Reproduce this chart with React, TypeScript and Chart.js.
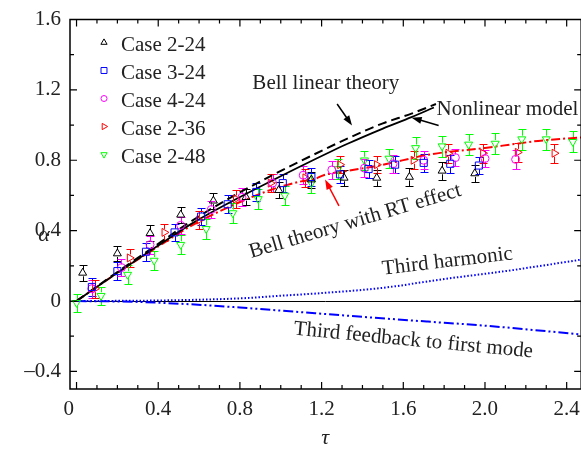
import React, { useEffect, useRef } from "react";
import { Chart, registerables } from "chart.js";

Chart.register(...registerables);

const SERIF = "'Liberation Serif', 'Times New Roman', Times, serif";
const TEXT = "#222";

// ---- axes ----
const xMin = -0.032;
const xMax = 2.471;
const yMin = -0.5;
const yMax = 1.6;
const xTickValues = [0, 0.4, 0.8, 1.2, 1.6, 2.0, 2.4];
const xTickLabels = ["0\u2002\u2005", "0.4", "0.8", "1.2", "1.6", "2.0", "2.4"];
const yTickValues = [-0.4, 0, 0.4, 0.8, 1.2, 1.6];
const yTickLabels = ["\u20130.4", "0", "0.4", "0.8", "1.2", "1.6"];

// ---- theory curves ----
const bellTau = [0, 0.2, 0.4, 0.55, 0.75, 0.95, 1.14, 1.33, 1.5, 1.64, 1.76];
const bellAlpha = [0, 0.165, 0.325, 0.445, 0.585, 0.71, 0.82, 0.925, 1.01, 1.065, 1.12];
const nonlinTau = [0, 0.2, 0.4, 0.55, 0.75, 0.95, 1.14, 1.33, 1.5, 1.64, 1.75];
const nonlinAlpha = [0, 0.16, 0.315, 0.43, 0.56, 0.68, 0.79, 0.895, 0.98, 1.045, 1.1];
const rtTau = [0, 0.2, 0.4, 0.55, 0.7, 0.9, 1.0, 1.1, 1.17, 1.21, 1.3, 1.48, 1.74, 2.0, 2.13, 2.26, 2.47];
const rtAlpha = [0, 0.16, 0.31, 0.42, 0.51, 0.61, 0.65, 0.68, 0.695, 0.715, 0.735, 0.77, 0.835, 0.87, 0.89, 0.91, 0.93];
const harmTau = [0, 0.4, 0.8, 1.0, 1.2, 1.5, 1.8, 2.1, 2.47];
const harmAlpha = [0, 0.003, 0.015, 0.03, 0.045, 0.075, 0.125, 0.17, 0.235];
const feedTau = [0, 0.3, 0.55, 0.8, 1.06, 1.4, 1.72, 2.0, 2.47];
const feedAlpha = [0, -0.005, -0.018, -0.037, -0.06, -0.09, -0.117, -0.14, -0.19];

// ---- experiments ----
const tau224 = [0.03, 0.2, 0.36, 0.51, 0.67, 0.83, 0.99, 1.15, 1.31, 1.47, 1.63, 1.79, 1.95];
const alpha224 = [0.16, 0.27, 0.385, 0.49, 0.57, 0.59, 0.63, 0.69, 0.7, 0.7, 0.705, 0.74, 0.725];
const err224 = [0.046, 0.045, 0.045, 0.045, 0.045, 0.045, 0.045, 0.045, 0.045, 0.045, 0.05, 0.05, 0.05];

const tau324 = [0.075, 0.2, 0.34, 0.48, 0.61, 0.74, 0.88, 1.01, 1.15, 1.29, 1.43, 1.56, 1.7, 1.83, 1.97];
const alpha324 = [0.08, 0.17, 0.28, 0.39, 0.48, 0.55, 0.62, 0.67, 0.705, 0.72, 0.75, 0.775, 0.785, 0.78, 0.77];
const err324 = [0.05, 0.05, 0.05, 0.05, 0.05, 0.05, 0.05, 0.05, 0.05, 0.05, 0.05, 0.05, 0.05, 0.05, 0.05];

const tau424 = [0.075, 0.22, 0.36, 0.51, 0.66, 0.81, 0.96, 1.11, 1.25, 1.41, 1.55, 1.7, 1.855, 2.0, 2.15];
const alpha424 = [0.07, 0.19, 0.32, 0.43, 0.52, 0.59, 0.67, 0.715, 0.745, 0.755, 0.78, 0.8, 0.815, 0.81, 0.805];
const err424 = [0.05, 0.05, 0.05, 0.05, 0.05, 0.05, 0.05, 0.05, 0.05, 0.05, 0.05, 0.05, 0.05, 0.05, 0.055];

const tau236 = [0.09, 0.26, 0.43, 0.6, 0.78, 0.95, 1.12, 1.29, 1.47, 1.65, 1.82, 1.99, 2.16, 2.34];
const alpha236 = [0.07, 0.245, 0.39, 0.46, 0.58, 0.67, 0.7, 0.775, 0.775, 0.8, 0.84, 0.84, 0.845, 0.84];
const err236 = [0.05, 0.05, 0.05, 0.05, 0.05, 0.05, 0.05, 0.05, 0.05, 0.05, 0.055, 0.055, 0.055, 0.055];

const tau248 = [0, 0.12, 0.25, 0.38, 0.51, 0.635, 0.765, 0.89, 1.02, 1.15, 1.28, 1.41, 1.53, 1.66, 1.79, 1.92, 2.05, 2.18, 2.3, 2.43];
const alpha248 = [-0.01, 0.03, 0.15, 0.23, 0.32, 0.41, 0.5, 0.58, 0.6, 0.67, 0.75, 0.8, 0.81, 0.87, 0.88, 0.89, 0.895, 0.92, 0.92, 0.905];
const err248 = [0.05, 0.05, 0.055, 0.055, 0.055, 0.055, 0.055, 0.055, 0.055, 0.055, 0.055, 0.055, 0.055, 0.06, 0.06, 0.06, 0.06, 0.06, 0.06, 0.06];

const seriesNames = ["Case 2-24", "Case 3-24", "Case 4-24", "Case 2-36", "Case 2-48"];

type Series = {
  label: string;
  tau: number[];
  alpha: number[];
  err: number[];
  color: string;
  style: string;
  rotation: number;
  radius: number;
};

const experiments: Series[] = [
  { label: seriesNames[0], tau: tau224, alpha: alpha224, err: err224, color: "#000000", style: "triangle", rotation: 0, radius: 4.6 },
  { label: seriesNames[1], tau: tau324, alpha: alpha324, err: err324, color: "#0000ff", style: "rect", rotation: 0, radius: 5 },
  { label: seriesNames[2], tau: tau424, alpha: alpha424, err: err424, color: "#ff00ff", style: "circle", rotation: 0, radius: 4 },
  { label: seriesNames[3], tau: tau236, alpha: alpha236, err: err236, color: "#ff0000", style: "triangle", rotation: 90, radius: 4.6 },
  { label: seriesNames[4], tau: tau248, alpha: alpha248, err: err248, color: "#00ff00", style: "triangle", rotation: 180, radius: 4.6 },
];

// ---- annotations (data coordinates) ----
const notes = [
  { text: "Bell linear theory", tau: 0.861, alpha: 1.204, angle: 0 },
  { text: "Nonlinear model", tau: 1.763, alpha: 1.059, angle: 0 },
  { text: "Bell theory with RT effect", tau: 0.856, alpha: 0.245, angle: -16.5 },
  { text: "Third harmonic", tau: 1.5, alpha: 0.15, angle: -6.7 },
  { text: "Third feedback to first mode", tau: 1.061, alpha: -0.19, angle: 5.5 },
];
const arrows = [
  { from: [1.276, 1.12], to: [1.349, 0.998], color: "#000" },
  { from: [1.773, 0.998], to: [1.641, 1.042], color: "#000" },
  { from: [1.285, 0.541], to: [1.217, 0.691], color: "#ff0000" },
];

const pts = (t: number[], a: number[]) => t.map((v, i) => ({ x: v, y: a[i] }));

function drawMarker(ctx: CanvasRenderingContext2D, style: string, rot: number, cx: number, cy: number, r: number, color: string) {
  ctx.strokeStyle = color;
  ctx.lineWidth = 1;
  ctx.beginPath();
  if (style === "circle") {
    ctx.arc(cx, cy, r, 0, Math.PI * 2);
  } else if (style === "rect") {
    const s = r * Math.SQRT1_2;
    ctx.rect(cx - s, cy - s, 2 * s, 2 * s);
  } else {
    let rad = (rot * Math.PI) / 180;
    ctx.moveTo(cx + Math.sin(rad) * r, cy - Math.cos(rad) * r);
    for (let k = 0; k < 2; k++) {
      rad += (2 * Math.PI) / 3;
      ctx.lineTo(cx + Math.sin(rad) * r, cy - Math.cos(rad) * r);
    }
    ctx.closePath();
  }
  ctx.stroke();
}

function drawArrow(ctx: CanvasRenderingContext2D, x1: number, y1: number, x2: number, y2: number, color: string) {
  ctx.strokeStyle = color;
  ctx.fillStyle = color;
  ctx.lineWidth = 1.5;
  const a = Math.atan2(y2 - y1, x2 - x1);
  const L = 10;
  const W = 3.5;
  ctx.beginPath();
  ctx.moveTo(x1, y1);
  ctx.lineTo(x2 - Math.cos(a) * L * 0.6, y2 - Math.sin(a) * L * 0.6);
  ctx.stroke();
  ctx.beginPath();
  ctx.moveTo(x2, y2);
  ctx.lineTo(x2 - L * Math.cos(a) + W * Math.sin(a), y2 - L * Math.sin(a) - W * Math.cos(a));
  ctx.lineTo(x2 - L * Math.cos(a) - W * Math.sin(a), y2 - L * Math.sin(a) + W * Math.cos(a));
  ctx.closePath();
  ctx.fill();
}

const overlayPlugin = {
  id: "overlay",
  beforeDatasetsDraw(chart: any) {
    const { ctx, chartArea: a, scales } = chart;
    const x = scales.x;
    const y = scales.y;
    ctx.save();
    // zero line
    ctx.strokeStyle = "#000";
    ctx.lineWidth = 1;
    const y0 = Math.round(y.getPixelForValue(0)) + 0.5;
    ctx.beginPath();
    ctx.moveTo(a.left, y0);
    ctx.lineTo(a.right, y0);
    ctx.stroke();
    // error bars
    experiments.forEach((s) => {
      ctx.strokeStyle = s.color;
      ctx.lineWidth = 1;
      s.tau.forEach((t, i) => {
        const px = Math.round(x.getPixelForValue(t)) + 0.5;
        const pc = y.getPixelForValue(s.alpha[i]);
        const top = Math.round(y.getPixelForValue(s.alpha[i] + s.err[i])) + 0.5;
        const bot = Math.round(y.getPixelForValue(s.alpha[i] - s.err[i])) + 0.5;
        const g = s.radius * 0.75;
        ctx.beginPath();
        ctx.moveTo(px, top);
        ctx.lineTo(px, Math.max(top, pc - g));
        ctx.moveTo(px, Math.min(bot, pc + g));
        ctx.lineTo(px, bot);
        ctx.moveTo(px - 4, top);
        ctx.lineTo(px + 4, top);
        ctx.moveTo(px - 4, bot);
        ctx.lineTo(px + 4, bot);
        ctx.stroke();
      });
    });
    ctx.restore();
  },
  afterDatasetsDraw(chart: any) {
    const { ctx, chartArea: a, scales } = chart;
    const x = scales.x;
    const y = scales.y;
    ctx.save();
    // frame
    ctx.strokeStyle = "#000";
    ctx.lineWidth = 1.5;
    ctx.strokeRect(a.left, a.top, a.right - a.left, a.bottom - a.top);
    // ticks
    ctx.lineWidth = 1.2;
    ctx.beginPath();
    for (let k = 0; k <= 24; k++) {
      const v = k / 10;
      const px = x.getPixelForValue(v);
      const len = k % 4 === 0 ? 7 : 4;
      ctx.moveTo(px, a.bottom);
      ctx.lineTo(px, a.bottom - len);
      ctx.moveTo(px, a.top);
      ctx.lineTo(px, a.top + len);
    }
    for (let k = -2; k <= 8; k++) {
      const v = k / 5;
      const py = y.getPixelForValue(v);
      const len = k % 2 === 0 ? 7 : 4;
      ctx.moveTo(a.left, py);
      ctx.lineTo(a.left + len, py);
      ctx.moveTo(a.right, py);
      ctx.lineTo(a.right - len, py);
    }
    ctx.stroke();

    // annotations
    ctx.fillStyle = TEXT;
    ctx.font = `21px ${SERIF}`;
    ctx.textAlign = "left";
    ctx.textBaseline = "alphabetic";
    notes.forEach((n) => {
      ctx.save();
      ctx.translate(x.getPixelForValue(n.tau), y.getPixelForValue(n.alpha));
      ctx.rotate((n.angle * Math.PI) / 180);
      ctx.fillText(n.text, 0, 0);
      ctx.restore();
    });
    arrows.forEach((ar) => {
      drawArrow(
        ctx,
        x.getPixelForValue(ar.from[0]),
        y.getPixelForValue(ar.from[1]),
        x.getPixelForValue(ar.to[0]),
        y.getPixelForValue(ar.to[1]),
        ar.color
      );
    });

    // legend
    experiments.forEach((s, i) => {
      const cy = a.top + 23 + i * 28;
      drawMarker(ctx, s.style, s.rotation, a.left + 34, cy, s.style === "circle" ? 3 : s.style === "rect" ? 4.2 : 3.6, s.color);
      ctx.fillStyle = TEXT;
      ctx.font = `21px ${SERIF}`;
      ctx.textAlign = "left";
      ctx.textBaseline = "alphabetic";
      ctx.fillText(s.label, a.left + 51, a.top + 31.5 + i * 28);
    });

    // axis titles
    ctx.font = `italic 22px ${SERIF}`;
    ctx.textAlign = "center";
    ctx.textBaseline = "middle";
    ctx.fillStyle = TEXT;
    ctx.fillText("\u03b1", a.left - 26, y.getPixelForValue(0.373));
    ctx.fillText("\u03c4", x.getPixelForValue(1.217), a.bottom + 49);
    ctx.restore();
  },
};

export default function App() {
  const ref = useRef<HTMLCanvasElement>(null);
  useEffect(() => {
    const lineSet = (label: string, t: number[], al: number[], color: string, width: number, dash: number[]) => ({
      type: "line" as const,
      label,
      data: pts(t, al),
      borderColor: color,
      borderWidth: width,
      borderDash: dash,
      showLine: true,
      fill: false,
      pointRadius: 0,
      cubicInterpolationMode: "monotone" as const,
      order: 2,
    });
    const datasets: any[] = [
      lineSet("Bell linear theory", bellTau, bellAlpha, "#000", 2, [9, 5]),
      lineSet("Nonlinear model", nonlinTau, nonlinAlpha, "#000", 1.8, []),
      lineSet("Bell theory with RT effect", rtTau, rtAlpha, "#ff0000", 2, [9, 3, 2, 3]),
      lineSet("Third harmonic", harmTau, harmAlpha, "#0000ff", 2, [1.5, 2]),
      lineSet("Third feedback to first mode", feedTau, feedAlpha, "#0000ff", 2, [10, 3, 2, 3, 2, 3]),
      ...experiments.map((s) => ({
        type: "scatter" as const,
        label: s.label,
        data: pts(s.tau, s.alpha),
        showLine: false,
        pointStyle: s.style,
        rotation: s.rotation,
        pointRadius: s.radius,
        pointBorderColor: s.color,
        pointBackgroundColor: "rgba(0,0,0,0)",
        pointBorderWidth: 1,
        order: 1,
      })),
    ];
    const chart = new Chart(ref.current as HTMLCanvasElement, {
      type: "scatter",
      data: { datasets },
      options: {
        responsive: false,
        animation: false,
        devicePixelRatio: 1,
        events: [],
        layout: { padding: { top: 12, right: 7, left: 0, bottom: 0 } },
        plugins: { legend: { display: false }, tooltip: { enabled: false } },
        scales: {
          x: {
            type: "linear",
            min: xMin,
            max: xMax,
            grid: { display: false, drawTicks: false },
            border: { display: false },
            ticks: {
              color: TEXT,
              font: { family: SERIF, size: 21, lineHeight: 1 },
              padding: 10,
              maxRotation: 0,
              autoSkip: false,
              callback: (v: any) => {
                const i = xTickValues.findIndex((t) => Math.abs(t - v) < 1e-6);
                return i >= 0 ? xTickLabels[i] : "";
              },
            },
            afterBuildTicks: (scale: any) => {
              scale.ticks = xTickValues.map((v) => ({ value: v }));
            },
            afterFit: (scale: any) => {
              scale.height = 64;
            },
          },
          y: {
            type: "linear",
            min: yMin,
            max: yMax,
            grid: { display: false, drawTicks: false },
            border: { display: false },
            ticks: {
              color: TEXT,
              font: { family: SERIF, size: 21, lineHeight: 1 },
              padding: 9,
              autoSkip: false,
              callback: (v: any) => {
                const i = yTickValues.findIndex((t) => Math.abs(t - v) < 1e-6);
                return i >= 0 ? yTickLabels[i] : "";
              },
            },
            afterBuildTicks: (scale: any) => {
              scale.ticks = yTickValues.map((v) => ({ value: v }));
            },
            afterFit: (scale: any) => {
              scale.width = 70;
            },
          },
        },
      },
      plugins: [overlayPlugin],
    } as any);
    return () => chart.destroy();
  }, []);
  return (
    <div style={{ position: "fixed", left: 0, top: 0, width: 581, height: 453, overflow: "hidden", background: "#fff" }}>
      <canvas ref={ref} width={590} height={453} style={{ display: "block", width: 590, height: 453 }} />
    </div>
  );
}
